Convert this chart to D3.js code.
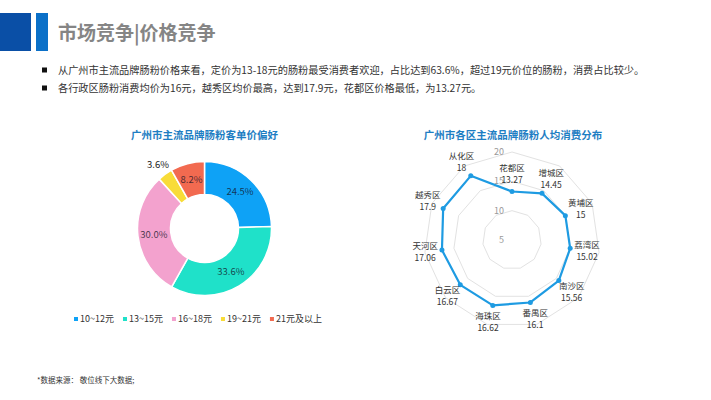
<!DOCTYPE html>
<html>
<head>
<meta charset="utf-8">
<script src="https://cdn.jsdelivr.net/npm/d3@7"></script>
<style>
  body { margin: 0; background: #fff; }
  svg { display: block; font-family: "Noto Sans CJK SC", "Noto Sans", sans-serif; }
</style>
</head>
<body>
<div id="chart"></div>
<script>
// donut: price bands and share (%)
var priceBands = ['10~12元', '13~15元', '16~18元', '19~21元', '21元及以上'];
var priceShare = [24.5, 33.6, 30.0, 3.6, 8.2];
var bandColors = ['#0EA2F6', '#1FE1C9', '#F3A2CE', '#F8DC38', '#F26A50'];

// radar: districts, clockwise from top, average spend (元)
var districts = ['花都区', '增城区', '黄埔区', '荔湾区', '南沙区', '番禺区', '海珠区', '白云区', '天河区', '越秀区', '从化区'];
var avgSpend = [13.27, 14.45, 15, 15.02, 15.56, 16.1, 16.62, 16.67, 17.06, 17.9, 18];
var radarTicks = [5, 10, 15, 20];

var bullets = [
  '从广州市主流品牌肠粉价格来看，定价为13-18元的肠粉最受消费者欢迎，占比达到63.6%，超过19元价位的肠粉，消费占比较少。',
  '各行政区肠粉消费均价为16元，越秀区均价最高，达到17.9元，花都区价格最低，为13.27元。'
];

var width = 711, height = 400;
var svg = d3.select('#chart').append('svg')
  .attr('width', width)
  .attr('height', height);

// header blocks + title
svg.append('rect').attr('x', 0).attr('y', 13).attr('width', 31).attr('height', 38).attr('fill', '#0A4FA6');
svg.append('rect').attr('x', 36).attr('y', 13).attr('width', 12).attr('height', 38).attr('fill', '#0B70C8');
svg.append('text')
  .attr('x', 58).attr('y', 40)
  .attr('font-size', 19).attr('font-weight', 'bold')
  .attr('fill', '#858585')
  .text('市场竞争|价格竞争');

// bullet points
bullets.forEach(function(t, i){
  var y = 74 + i * 18;
  svg.append('rect').attr('x', 42).attr('y', y - 6.5).attr('width', 5).attr('height', 5).attr('fill', '#111');
  svg.append('text').attr('x', 58).attr('y', y)
    .attr('font-size', 10.2).attr('fill', '#333')
    .text(t);
});

// ---------- donut ----------
var cx = 204.5, cy = 228.5, outerR = 67, innerR = 34;

svg.append('text')
  .attr('x', cx).attr('y', 139)
  .attr('text-anchor', 'middle')
  .attr('font-size', 10.5).attr('font-weight', 'bold')
  .attr('fill', '#1E7EC3')
  .text('广州市主流品牌肠粉客单价偏好');

var pie = d3.pie().sort(null).value(function(d){ return d; });
var arcs = pie(priceShare);
var arc = d3.arc().innerRadius(innerR).outerRadius(outerR);
var labelArc = d3.arc().innerRadius(51).outerRadius(51);
var outsideArc = d3.arc().innerRadius(79).outerRadius(79);

var donut = svg.append('g').attr('transform', 'translate(' + cx + ',' + cy + ')');

donut.selectAll('path').data(arcs)
  .enter().append('path')
  .attr('d', arc)
  .attr('fill', function(d, i){ return bandColors[i]; })
  .attr('stroke', '#fff')
  .attr('stroke-width', 1.5);

donut.selectAll('text').data(arcs)
  .enter().append('text')
  .attr('transform', function(d){
    var p = d.data < 5 ? outsideArc.centroid(d) : labelArc.centroid(d);
    return 'translate(' + p + ')';
  })
  .attr('text-anchor', 'middle')
  .attr('dy', '0.35em')
  .attr('font-size', 9.5)
  .attr('fill', function(d){ return d.data < 5 ? '#222' : 'rgba(20,20,40,0.78)'; })
  .text(function(d){ return d.data.toFixed(1) + '%'; });

// legend
var legend = svg.append('g').attr('transform', 'translate(74,319)');
var lx = 0;
priceBands.forEach(function(name, i){
  var item = legend.append('g').attr('transform', 'translate(' + lx + ',0)');
  item.append('rect').attr('x', 0).attr('y', -2).attr('width', 4).attr('height', 4).attr('fill', bandColors[i]);
  var t = item.append('text').attr('x', 6).attr('dy', '0.35em')
    .attr('font-size', 9).attr('fill', '#333').text(name);
  lx += 6 + t.node().getComputedTextLength() + 9;
});

// ---------- radar ----------
var rx = 512, ry = 240, radarR = 88;

svg.append('text')
  .attr('x', 513).attr('y', 139)
  .attr('text-anchor', 'middle')
  .attr('font-size', 10.5).attr('font-weight', 'bold')
  .attr('fill', '#1E7EC3')
  .text('广州市各区主流品牌肠粉人均消费分布');

var rScale = d3.scaleLinear().domain([5, 20]).range([0, radarR]);
var angle = d3.scaleLinear().domain([0, districts.length]).range([0, 2 * Math.PI]);

var radar = svg.append('g').attr('transform', 'translate(' + rx + ',' + ry + ')');

var ringLine = d3.lineRadial()
  .angle(function(d, i){ return angle(i); })
  .radius(function(d){ return rScale(d); })
  .curve(d3.curveLinearClosed);

// split rings
radar.selectAll('path.ring').data(radarTicks.slice(1))
  .enter().append('path')
  .attr('class', 'ring')
  .attr('d', function(t){ return ringLine(districts.map(function(){ return t; })); })
  .attr('fill', 'none')
  .attr('stroke', '#e2e2e2')
  .attr('stroke-width', 1);

// tick labels along top axis
radar.selectAll('text.tick').data(radarTicks)
  .enter().append('text')
  .attr('class', 'tick')
  .attr('x', -8)
  .attr('y', function(t){ return -rScale(t); })
  .attr('dy', '0.35em')
  .attr('text-anchor', 'end')
  .attr('font-size', 9)
  .attr('fill', '#999')
  .text(function(t){ return t; });

// data line
radar.append('path')
  .attr('d', ringLine(avgSpend))
  .attr('fill', 'none')
  .attr('stroke', '#1E9BE2')
  .attr('stroke-width', 2.2)
  .attr('stroke-linejoin', 'round');

var pt = function(v, i, extra){
  var r = rScale(v) + (extra || 0);
  return [r * Math.sin(angle(i)), -r * Math.cos(angle(i))];
};

radar.selectAll('circle').data(avgSpend)
  .enter().append('circle')
  .attr('cx', function(d, i){ return pt(d, i)[0]; })
  .attr('cy', function(d, i){ return pt(d, i)[1]; })
  .attr('r', 2.5)
  .attr('fill', '#1E9BE2');

var labels = radar.selectAll('g.lbl').data(avgSpend)
  .enter().append('g')
  .attr('class', 'lbl')
  .attr('transform', function(d, i){ return 'translate(' + pt(d, i, 17) + ')'; });

labels.append('text')
  .attr('y', -6).attr('dy', '0.35em')
  .attr('text-anchor', 'middle')
  .attr('font-size', 8.5).attr('fill', '#333')
  .text(function(d, i){ return districts[i]; });

labels.append('text')
  .attr('y', 6).attr('dy', '0.35em')
  .attr('text-anchor', 'middle')
  .attr('font-size', 8.5).attr('fill', '#333')
  .text(function(d){ return d; });

// footer
svg.append('text')
  .attr('x', 37).attr('y', 383)
  .attr('font-size', 7.5).attr('fill', '#333')
  .text('*数据来源： 敬位线下大数据;');
</script>
</body>
</html>
